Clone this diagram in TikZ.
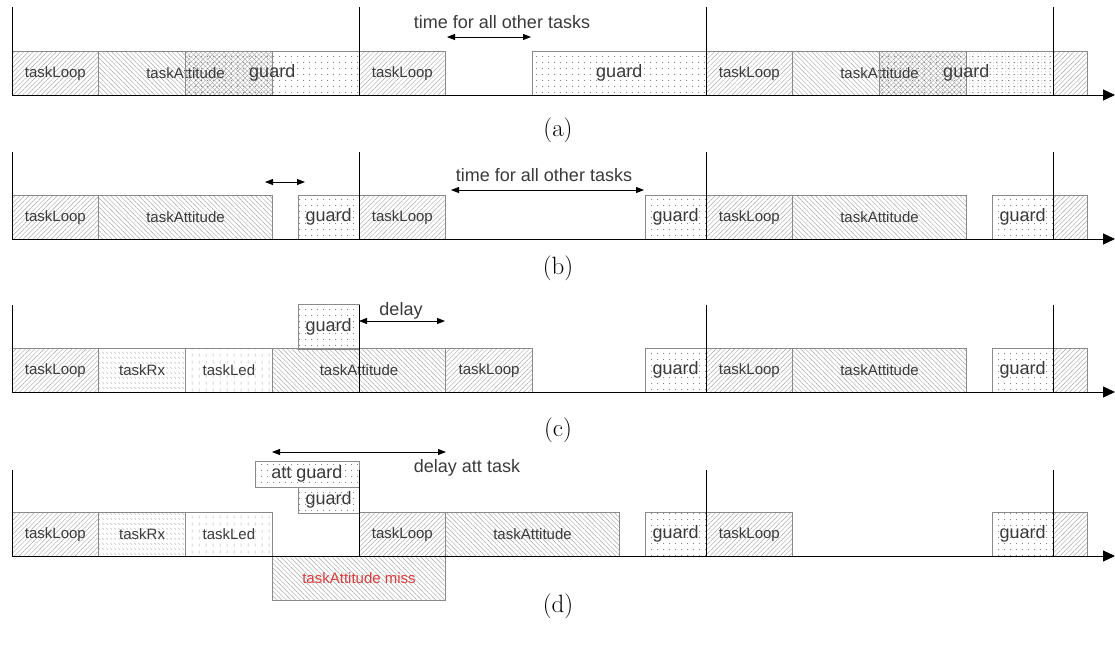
\documentclass[tikz,border=0pt]{standalone}
\usepackage{fontspec}
\newfontfamily\labelfont{Liberation Sans}
\usetikzlibrary{patterns,patterns.meta,arrows.meta}

\definecolor{boxgray}{HTML}{8A8A8A}
\definecolor{hatchgray}{HTML}{A8A8A8}
\definecolor{labelgray}{HTML}{3A3A3A}
\definecolor{missred}{HTML}{E03A3A}

% dotted fill of the guard slots
\tikzdeclarepattern{
  name=guarddots, type=uncolored,
  bounding box={(0pt,0pt) and (5.5pt,5.5pt)},
  tile size={(5.5pt,5.5pt)},
  code={\fill (2.75pt,2.75pt) circle (0.6pt);}
}
% dense columns of dots
\tikzdeclarepattern{
  name=densedots, type=uncolored,
  bounding box={(0pt,0pt) and (3.6pt,2.6pt)},
  tile size={(3.6pt,2.6pt)},
  code={\fill (1.8pt,1.3pt) circle (0.5pt);}
}
% short slanted dashes in rows (taskRx)
\tikzdeclarepattern{
  name=rxdash, type=uncolored,
  bounding box={(0pt,0pt) and (3.5pt,5pt)},
  tile size={(3.5pt,5pt)},
  code={\draw[line width=0.45pt] (0.4pt,3.6pt) -- (2.4pt,1.6pt);}
}
% vertical dashes (taskLed)
\tikzdeclarepattern{
  name=leddash, type=uncolored,
  bounding box={(0pt,0pt) and (7pt,7pt)},
  tile size={(7pt,7pt)},
  code={\draw[line width=0.5pt] (3.5pt,1.5pt) -- (3.5pt,5pt);}
}

% x position of a time slot
\newcommand{\xs}[1]{{12+86.75*(#1)}}
% task box: style, name, first slot, last slot, baseline y, label
\newcommand{\tsk}[6]{%
  \node[#1, anchor=south west, minimum width={86.75pt*((#4)-(#3))}] (#2) at (\xs{#3},#5) {#6};}

\begin{document}
\begin{tikzpicture}[x=1pt,y=-1pt,
  every node/.style={outer sep=0pt},
  task/.style={draw=boxgray, line width=0.7pt, inner sep=0pt,
    minimum height=43.5pt, text=labelgray,
    font=\labelfont\fontsize{15}{18}\selectfont, pattern color=hatchgray},
  loopbox/.style={task, pattern={Lines[angle=45,distance=3.3pt,line width=0.45pt]}},
  attbox/.style={task, pattern={Lines[angle=-45,distance=3.3pt,line width=0.45pt]}},
  rxbox/.style={task, pattern=rxdash},
  ledbox/.style={task, pattern=leddash},
  guardbox/.style={task, pattern=guarddots, pattern color=gray!95!black,
    font=\labelfont\fontsize{18}{21}\selectfont},
  missbox/.style={attbox, text=missred},
  note/.style={text=labelgray, font=\labelfont\fontsize{18}{21}\selectfont, inner sep=0pt},
  caption/.style={font=\fontsize{25}{30}\selectfont, inner sep=0pt},
  period/.style={line width=0.8pt, black},
  axis/.style={line width=1pt, black, -{Triangle[length=12pt,width=11pt]}},
  span/.style={line width=0.8pt, black,
    {Triangle[length=8pt,width=6pt]}-{Triangle[length=8pt,width=6pt]}}
]
\useasboundingbox (0,0) rectangle (1115,645);

% ---------------- (a) ----------------
\fill[pattern={Lines[angle=45,distance=3.3pt,line width=0.45pt]}, pattern color=hatchgray]
  (\xs{2},52) rectangle (\xs{3},95);
\fill[pattern={Lines[angle=45,distance=3.3pt,line width=0.45pt]}, pattern color=hatchgray]
  (\xs{10},52) rectangle (\xs{11},95);
\fill[pattern=densedots, pattern color=gray!90] (\xs{11},52) rectangle (\xs{12},95);
\tsk{loopbox}{aL1}{0}{1}{95}{taskLoop}
\tsk{attbox}{aA1}{1}{3}{95}{taskAttitude}
\tsk{guardbox}{aG1}{2}{4}{95}{guard}
\tsk{loopbox}{aL2}{4}{5}{95}{taskLoop}
\tsk{guardbox}{aG2}{6}{8}{95}{guard}
\tsk{loopbox}{aL3}{8}{9}{95}{taskLoop}
\tsk{attbox}{aA3}{9}{11}{95}{taskAttitude}
\tsk{guardbox}{aG3}{10}{12}{95}{guard}
\tsk{loopbox}{aL4}{12}{12.4}{95}{}
\coordinate (aSl) at (447,37);
\coordinate (aSr) at (531,37);
\draw[span] (aSl) -- (aSr);
\node[note] (aNote) at (502,22) {time for all other tasks};
\node[caption] (capA) at (558,130) {(a)};

% ---------------- (b) ----------------
\tsk{loopbox}{bL1}{0}{1}{239}{taskLoop}
\tsk{attbox}{bA1}{1}{3}{239}{taskAttitude}
\tsk{guardbox}{bG1}{3.3}{4}{239}{guard}
\tsk{loopbox}{bL2}{4}{5}{239}{taskLoop}
\tsk{guardbox}{bG2}{7.3}{8}{239}{guard}
\tsk{loopbox}{bL3}{8}{9}{239}{taskLoop}
\tsk{attbox}{bA3}{9}{11}{239}{taskAttitude}
\tsk{guardbox}{bG3}{11.3}{12}{239}{guard}
\tsk{loopbox}{bL4}{12}{12.4}{239}{}
\coordinate (bSl) at (265,182);
\coordinate (bSr) at (305,182);
\draw[span] (bSl) -- (bSr);
\coordinate (bTl) at (451,190);
\coordinate (bTr) at (644,190);
\draw[span] (bTl) -- (bTr);
\node[note] (bNote) at (544,175) {time for all other tasks};
\node[caption] (capB) at (558,268) {(b)};

% ---------------- (c) ----------------
\tsk{loopbox}{cL1}{0}{1}{392}{taskLoop}
\tsk{rxbox}{cR1}{1}{2}{392}{taskRx}
\tsk{ledbox}{cE1}{2}{3}{392}{taskLed}
\tsk{attbox}{cA1}{3}{5}{392}{taskAttitude}
\tsk{loopbox}{cL2}{5}{6}{392}{taskLoop}
\tsk{guardbox}{cG2}{7.3}{8}{392}{guard}
\tsk{loopbox}{cL3}{8}{9}{392}{taskLoop}
\tsk{attbox}{cA3}{9}{11}{392}{taskAttitude}
\tsk{guardbox}{cG3}{11.3}{12}{392}{guard}
\tsk{loopbox}{cL4}{12}{12.4}{392}{}
\node[guardbox, anchor=south west, minimum width={86.75pt*0.7}, minimum height=45pt]
  (cG1) at (\xs{3.3},349) {guard};
\coordinate (cDr) at (445,321);
\draw[span] (cG1.east |- cDr) -- (cDr);
\node[note] (cNote) at (401,311) {delay};
\node[caption] (capC) at (558,430) {(c)};

% ---------------- (d) ----------------
\tsk{loopbox}{dL1}{0}{1}{556}{taskLoop}
\tsk{rxbox}{dR1}{1}{2}{556}{taskRx}
\tsk{ledbox}{dE1}{2}{3}{556}{taskLed}
\tsk{loopbox}{dL2}{4}{5}{556}{taskLoop}
\tsk{attbox}{dA2}{5}{7}{556}{taskAttitude}
\tsk{guardbox}{dG2}{7.3}{8}{556}{guard}
\tsk{loopbox}{dL3}{8}{9}{556}{taskLoop}
\tsk{guardbox}{dG3}{11.3}{12}{556}{guard}
\tsk{loopbox}{dL4}{12}{12.4}{556}{}
\node[guardbox, anchor=south west, minimum width={86.75pt*0.7}, minimum height=26pt]
  (dG1) at (\xs{3.3},513) {guard};
\node[guardbox, anchor=south west, minimum width={86.75pt*1.2}, minimum height=26pt]
  (dAG) at (\xs{2.8},487) {att guard};
\node[missbox, anchor=north west, minimum width={86.75pt*2}, minimum height=44pt]
  (dMiss) at (\xs{3},556) {taskAttitude miss};
\coordinate (dSl) at (272,452);
\coordinate (dSr) at (446,452);
\draw[span] (dSl) -- (dSr);
\node[note] (dNote) at (467,468) {delay att task};
\node[caption] (capD) at (558,606) {(d)};

% ---------------- period marks and time axes ----------------
\foreach \r/\top/\base in {a/7/95, b/152/239, c/305/392, d/470/556} {
  \foreach \k in {0,1,2,3} {
    \coordinate (\r P\k t) at ({12+347*\k},\top);
    \coordinate (\r P\k b) at ({12+347*\k},\base);
    \draw[period] (\r P\k t) -- (\r P\k b);
  }
  \coordinate (\r X0) at (12,\base);
  \coordinate (\r X1) at (1115,\base);
  \draw[axis] (\r X0) -- (\r X1);
}
\end{tikzpicture}
\end{document}
